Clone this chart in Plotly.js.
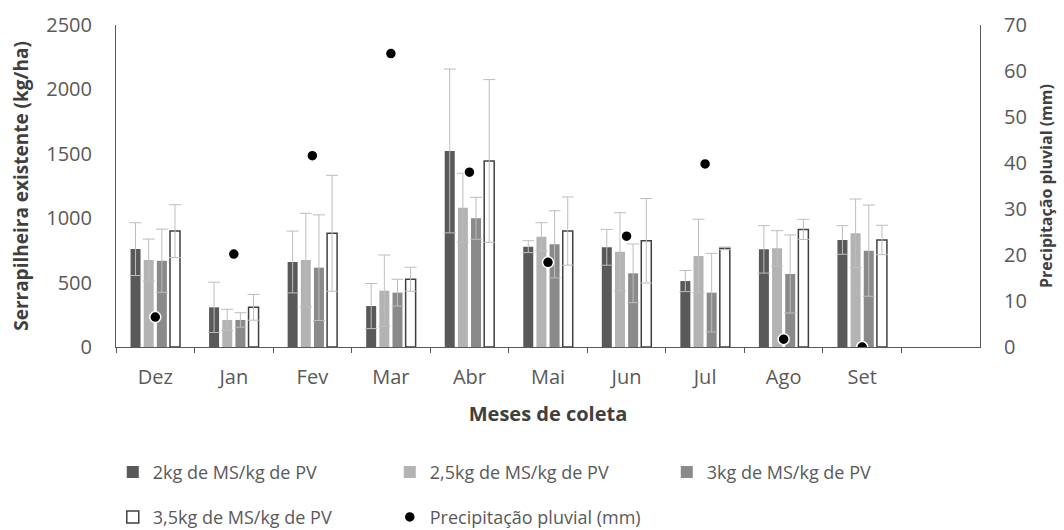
<!DOCTYPE html>
<html>
<head>
<meta charset="utf-8">
<script src="https://cdn.plot.ly/plotly-3.0.1.min.js"></script>
<style>html,body{margin:0;padding:0;background:#fff;}#chart{width:1064px;height:530px;}</style>
</head>
<body>
<div id="chart"></div>
<script>
const meses = ['Dez','Jan','Fev','Mar','Abr','Mai','Jun','Jul','Ago','Set'];
const nomes = ['2kg de MS/kg de PV','2,5kg de MS/kg de PV','3kg de MS/kg de PV','3,5kg de MS/kg de PV','Precipitação pluvial (mm)'];
const serie2 = [760, 308, 660, 318, 1522, 779, 774, 512, 758, 831];
const erro2 = [205, 195, 240, 175, 636, 46, 139, 82, 184, 111];
const serie25 = [675, 210, 675, 437, 1082, 856, 740, 707, 766, 883];
const erro25 = [163, 83, 363, 277, 267, 109, 303, 285, 137, 266];
const serie3 = [670, 210, 616, 422, 999, 797, 572, 422, 567, 748];
const erro3 = [245, 56, 410, 104, 163, 261, 228, 305, 303, 354];
const serie35 = [900, 308, 883, 526, 1444, 900, 825, 766, 913, 831];
const erro35 = [205, 100, 450, 93, 632, 265, 328, 10, 78, 114];
const precip = [6.5, 20.2, 41.6, 63.8, 38.0, 18.4, 24.1, 39.8, 1.7, 0];

const FONT = 'Open Sans, Lato, sans-serif';
const errStyle = (arr) => ({type:'data', array: arr, visible:true, color:'#bdbdbd', thickness:1, width:6});

const traces = [
  {type:'bar', name:nomes[0], x:meses, y:serie2, error_y:errStyle(erro2),
   marker:{color:'#595959', line:{width:0}}, legend:'legend'},
  {type:'bar', name:nomes[1], x:meses, y:serie25, error_y:errStyle(erro25),
   marker:{color:'#b3b3b3', line:{width:0}}, legend:'legend'},
  {type:'bar', name:nomes[2], x:meses, y:serie3, error_y:errStyle(erro3),
   marker:{color:'#8a8a8a', line:{width:0}}, legend:'legend'},
  {type:'bar', name:nomes[3], x:meses, y:serie35, error_y:errStyle(erro35),
   marker:{color:'#ffffff', line:{color:'#404040', width:1.5}}, legend:'legend2'},
  {type:'scatter', mode:'markers', name:nomes[4], x:meses, y:precip, yaxis:'y2',
   marker:{color:'#000000', size:11, line:{color:'#ffffff', width:1.5}}, legend:'legend2'}
];

const layout = {
  width:1064, height:530,
  margin:{l:116, r:84, t:25, b:183},
  paper_bgcolor:'#ffffff', plot_bgcolor:'#ffffff',
  font:{family:FONT, color:'#595959'},
  barmode:'group', bargap:0.33, bargroupgap:0.24,
  showlegend:true,
  xaxis:{
    type:'category', range:[-0.5, 10.5], tickson:'boundaries',
    ticks:'outside', ticklen:5, tickcolor:'#595959', tickwidth:1,
    showline:true, linecolor:'#595959', linewidth:1, showgrid:false, zeroline:false,
    tickfont:{family:FONT, size:20, color:'#595959'}, ticklabelstandoff:12,
    title:{text:'Meses de coleta', font:{family:FONT, size:20, color:'#404040', weight:'bold'}, standoff:17}
  },
  yaxis:{
    range:[0,2500], dtick:500, tick0:0, showgrid:false, zeroline:false,
    showline:true, linecolor:'#595959', linewidth:1, ticks:'',
    tickfont:{family:FONT, size:20, color:'#595959'}, ticklabelstandoff:19,
    title:{text:'Serrapilheira existente (kg/ha)', font:{family:FONT, size:19, color:'#404040', weight:'bold'}, standoff:12}
  },
  yaxis2:{
    range:[0,70], dtick:10, tick0:0, overlaying:'y', side:'right', showgrid:false, zeroline:false,
    showline:true, linecolor:'#595959', linewidth:1, ticks:'',
    tickfont:{family:FONT, size:20, color:'#595959'}, ticklabelstandoff:19,
    title:{text:'Precipitação pluvial (mm)', font:{family:FONT, size:16, color:'#404040', weight:'bold'}, standoff:14}
  },
  legend:{orientation:'h', xref:'container', x:0.106, xanchor:'left', yref:'container', y:0.109, yanchor:'middle',
    entrywidth:232, entrywidthmode:'pixels', traceorder:'normal',
    font:{family:FONT, size:18, color:'#595959'}, bgcolor:'rgba(0,0,0,0)'},
  legend2:{orientation:'h', xref:'container', x:0.106, xanchor:'left', yref:'container', y:0.024, yanchor:'middle',
    entrywidth:232, entrywidthmode:'pixels', traceorder:'normal',
    font:{family:FONT, size:18, color:'#595959'}, bgcolor:'rgba(0,0,0,0)'}
};

Plotly.newPlot('chart', traces, layout, {displayModeBar:false, staticPlot:true});
</script>
</body>
</html>
